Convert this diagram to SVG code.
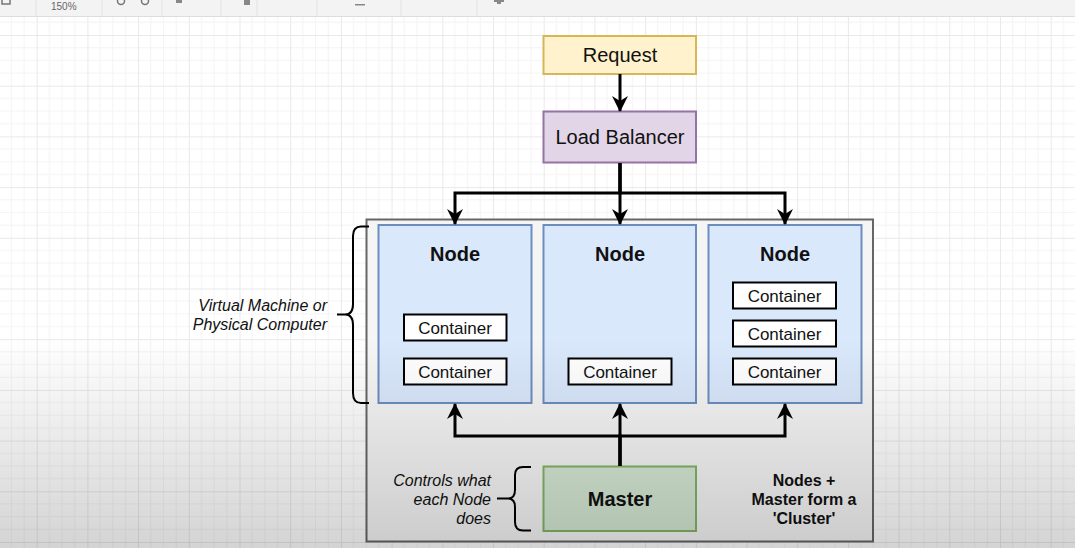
<svg xmlns="http://www.w3.org/2000/svg" width="1075" height="548" viewBox="0 0 1075 548">
  <defs>
    <pattern id="grid" x="36.7" y="35" width="50.7" height="50.7" patternUnits="userSpaceOnUse">
      <path d="M12.675 0V50.7M25.35 0V50.7M38.025 0V50.7M0 12.675H50.7M0 25.35H50.7M0 38.025H50.7" stroke="#f4f4f4" stroke-width="1" fill="none"/>
      <path d="M0.5 0V50.7M0 0.5H50.7" stroke="#e9e9e9" stroke-width="1" fill="none"/>
    </pattern>
    <linearGradient id="shade" x1="0" y1="0" x2="0" y2="1">
      <stop offset="0" stop-color="#000" stop-opacity="0"/>
      <stop offset="1" stop-color="#000" stop-opacity="0.17"/>
    </linearGradient>
    <marker id="arr" viewBox="0 0 16 16" refX="15" refY="8" markerWidth="16" markerHeight="16" markerUnits="userSpaceOnUse" orient="auto">
      <path d="M0,0 L16,8 L0,16 L5,8 Z" fill="#000"/>
    </marker>
    <style>
      .lbl { font-family: "Liberation Sans", Arial, sans-serif; fill: #111; }
      .big { font-size: 20px; text-anchor: middle; }
      .bold { font-weight: bold; }
      .ctr { font-size: 17px; text-anchor: middle; }
      .note { font-size: 16px; font-style: italic; text-anchor: end; }
      .node { fill: #dae8fc; stroke: #6c8ebf; stroke-width: 2; }
      .cont { fill: #ffffff; stroke: #000; stroke-width: 2; }
      .edge { fill: none; stroke: #000; stroke-width: 3; marker-end: url(#arr); }
      .brace { fill: none; stroke: #000; stroke-width: 2; }
    </style>
  </defs>

  <!-- canvas background -->
  <rect x="0" y="0" width="1075" height="548" fill="#ffffff"/>
  <rect x="0" y="16" width="1075" height="532" fill="url(#grid)"/>

  <!-- editor toolbar strip -->
  <g id="toolbar">
    <rect x="0" y="0" width="1075" height="16" fill="#f3f3f3"/>
    <line x1="0" y1="16.5" x2="1075" y2="16.5" stroke="#dddddd" stroke-width="1"/>
    <g stroke="#e2e2e2" stroke-width="1">
      <line x1="36" y1="0" x2="36" y2="16"/>
      <line x1="102" y1="0" x2="102" y2="16"/>
      <line x1="162" y1="0" x2="162" y2="16"/>
      <line x1="221" y1="0" x2="221" y2="16"/>
      <line x1="257" y1="0" x2="257" y2="16"/>
      <line x1="317" y1="0" x2="317" y2="16"/>
      <line x1="401" y1="0" x2="401" y2="16"/>
      <line x1="477" y1="0" x2="477" y2="16"/>
    </g>
    <text x="51" y="10" font-family="Liberation Sans, Arial, sans-serif" font-size="10" fill="#666">150%</text>
    <g fill="none" stroke="#777" stroke-width="1.5">
      <circle cx="121" cy="1" r="3.5"/>
      <circle cx="145" cy="1" r="3.5"/>
      <rect x="2" y="-3" width="8" height="7"/>
    </g>
    <g fill="#888">
      <rect x="176" y="0" width="6" height="3"/>
      <rect x="244" y="0" width="6" height="5"/>
      <rect x="355" y="4" width="10" height="1.5"/>
      <rect x="497" y="-2" width="4" height="6"/>
      <rect x="494" y="0" width="10" height="2"/>
    </g>
  </g>

  <!-- cluster -->
  <g id="cluster">
    <rect x="366.5" y="219.5" width="506.5" height="322" fill="#f5f5f5" stroke="#666666" stroke-width="2"/>
  </g>

  <g id="request">
    <rect x="543.5" y="36" width="152.5" height="38" fill="#fff2cc" stroke="#d6b656" stroke-width="2"/>
    <text class="lbl big" x="620" y="62">Request</text>
  </g>

  <g id="load-balancer">
    <rect x="543.5" y="111.5" width="152.5" height="51" fill="#e1d5e7" stroke="#9673a6" stroke-width="2"/>
    <text class="lbl big" x="620" y="143.5">Load Balancer</text>
  </g>

  <g id="node1">
    <rect class="node" x="378.5" y="225" width="153" height="178"/>
    <text class="lbl big bold" x="455" y="261">Node</text>
    <rect class="cont" x="404" y="314.5" width="102.5" height="26"/>
    <text class="lbl ctr" x="455" y="333.5">Container</text>
    <rect class="cont" x="404" y="358.5" width="102.5" height="26"/>
    <text class="lbl ctr" x="455" y="377.5">Container</text>
  </g>

  <g id="node2">
    <rect class="node" x="543.5" y="225" width="152.5" height="178"/>
    <text class="lbl big bold" x="620" y="261">Node</text>
    <rect class="cont" x="568.5" y="358.5" width="103" height="26"/>
    <text class="lbl ctr" x="620" y="377.5">Container</text>
  </g>

  <g id="node3">
    <rect class="node" x="708.5" y="225" width="153" height="178"/>
    <text class="lbl big bold" x="785" y="261">Node</text>
    <rect class="cont" x="733" y="282.5" width="103" height="26"/>
    <text class="lbl ctr" x="784.5" y="301.5">Container</text>
    <rect class="cont" x="733" y="320.5" width="103" height="26"/>
    <text class="lbl ctr" x="784.5" y="339.5">Container</text>
    <rect class="cont" x="733" y="358.5" width="103" height="26"/>
    <text class="lbl ctr" x="784.5" y="377.5">Container</text>
  </g>

  <g id="master">
    <rect x="543.5" y="466.5" width="152.5" height="64.5" fill="#d5e8d4" stroke="#82b366" stroke-width="2"/>
    <text class="lbl big bold" x="620" y="505.5">Master</text>
  </g>

  <g id="connectors">
    <path class="edge" d="M620,74 V111"/>
    <path class="edge" d="M620,163 V193 H455 V224"/>
    <path class="edge" d="M620,163 V224"/>
    <path class="edge" d="M620,163 V193 H785 V224"/>
    <path class="edge" d="M620,466 V436 H455 V404"/>
    <path class="edge" d="M620,466 V404"/>
    <path class="edge" d="M620,466 V436 H785 V404"/>
  </g>

  <g id="vm-note">
    <path class="brace" d="M369,226.5 H361 Q353,226.5 353,236 V304 Q353,314.5 345,314.5 H337 M345,314.5 Q353,314.5 353,325 V393 Q353,403 361,403 H369"/>
    <text class="lbl note" x="327" y="311">Virtual Machine or</text>
    <text class="lbl note" x="327" y="330">Physical Computer</text>
  </g>

  <g id="master-note">
    <path class="brace" d="M531,467 H523 Q515,467 515,475 V490 Q515,498.5 508,498.5 H497 M508,498.5 Q515,498.5 515,507 V522 Q515,530.5 523,530.5 H531"/>
    <text class="lbl note" x="491" y="486">Controls what</text>
    <text class="lbl note" x="491" y="505">each Node</text>
    <text class="lbl note" x="491" y="523.5">does</text>
  </g>

  <g id="cluster-note">
    <text class="lbl bold" x="804" y="486" font-size="16" text-anchor="middle">Nodes +</text>
    <text class="lbl bold" x="804" y="505" font-size="16" text-anchor="middle">Master form a</text>
    <text class="lbl bold" x="804" y="523.5" font-size="16" text-anchor="middle">'Cluster'</text>
  </g>

  <!-- bottom video shade -->
  <rect x="0" y="338" width="1075" height="210" fill="url(#shade)"/>
</svg>
